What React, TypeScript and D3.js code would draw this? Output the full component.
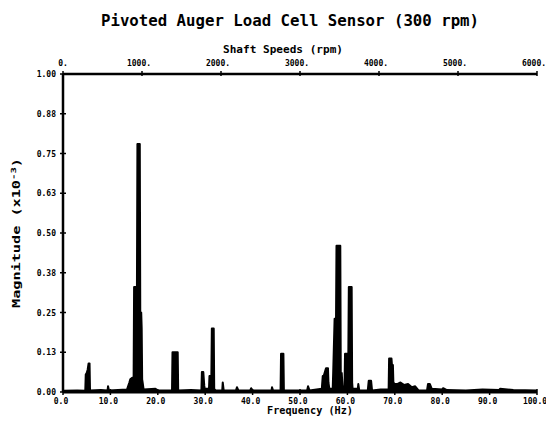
import React from "react";
import * as d3 from "d3";

const title = "Pivoted Auger Load Cell Sensor (300 rpm)";
const xTitle = "Frequency (Hz)";
const topTitle = "Shaft Speeds (rpm)";

const freqTicks = [0, 10, 20, 30, 40, 50, 60, 70, 80, 90, 100];
const freqTickLabels = ["0.0", "10.0", "20.0", "30.0", "40.0", "50.0", "60.0", "70.0", "80.0", "90.0", "100.0"];
const rpmTicks = [0, 1000, 2000, 3000, 4000, 5000, 6000];
const rpmTickLabels = ["0.", "1000.", "2000.", "3000.", "4000.", "5000.", "6000."];
const magTicks = [0, 0.125, 0.25, 0.375, 0.5, 0.625, 0.75, 0.875, 1.0];
const magTickLabels = ["0.00", "0.13", "0.25", "0.38", "0.50", "0.63", "0.75", "0.88", "1.00"];

// spectrum trace (Hz, magnitude x10^-3)
const specFreq = [
  0, 3, 4.7, 4.8, 5.0, 5.2, 5.4, 5.6, 5.7, 8, 9.4, 9.5, 9.7, 13.5, 14.0, 14.2, 14.6, 14.9, 15.0, 15.5, 15.6,
  15.7, 16.2, 16.3, 16.5, 16.6, 16.7, 16.8, 17, 19.5, 20, 23.0, 23.1, 24.2, 24.3, 27, 29.2, 29.3, 29.6, 29.8,
  29.9, 30.8, 30.9, 31.3, 31.4, 31.8, 31.9, 32.2, 33.6, 33.7, 33.9, 36.5, 36.7, 37, 39.5, 39.7, 40, 44, 44.1,
  44.3, 45.9, 46.0, 46.5, 46.6, 49, 51.5, 51.7, 52, 54.6, 54.8, 55.0, 55.5, 55.9, 56.0, 56.2, 56.9, 57.0,
  57.3, 57.6, 57.7, 58.5, 58.6, 58.8, 59.0, 59.4, 59.5, 59.6, 60.2, 60.3, 60.9, 61.0, 61.1, 62.2, 62.3,
  62.5, 64.3, 64.5, 65.0, 65.2, 67, 68.7, 68.8, 69.3, 69.4, 69.6, 69.7, 70.0, 70.5, 71.2, 72, 72.8, 73.6,
  74.3, 75, 76.8, 77.0, 77.4, 77.8, 80.0, 80.2, 81, 85, 88.5, 92, 92.2, 95, 100,
];
const specMag = [
  0.004, 0.005, 0.004, 0.055, 0.06, 0.07, 0.09, 0.09, 0.005, 0.006, 0.005, 0.018, 0.005, 0.008, 0.03, 0.04, 0.045, 0.045, 0.33, 0.33, 0.33,
  0.78, 0.78, 0.25, 0.25, 0.2, 0.04, 0.03, 0.008, 0.01, 0.005, 0.005, 0.125, 0.125, 0.005, 0.006, 0.005, 0.063, 0.063, 0.02,
  0.01, 0.01, 0.05, 0.05, 0.2, 0.2, 0.01, 0.005, 0.005, 0.03, 0.005, 0.005, 0.015, 0.005, 0.005, 0.012, 0.005, 0.005, 0.015,
  0.005, 0.005, 0.12, 0.12, 0.005, 0.005, 0.005, 0.018, 0.005, 0.01, 0.05, 0.05, 0.075, 0.075, 0.03, 0.01, 0.01, 0.06,
  0.23, 0.23, 0.46, 0.46, 0.06, 0.06, 0.01, 0.02, 0.12, 0.12, 0.12, 0.33, 0.33, 0.03, 0.01, 0.01, 0.025,
  0.005, 0.005, 0.035, 0.035, 0.005, 0.008, 0.008, 0.105, 0.105, 0.085, 0.085, 0.03, 0.025, 0.025, 0.03, 0.022, 0.025, 0.015,
  0.018, 0.005, 0.005, 0.025, 0.025, 0.01, 0.008, 0.012, 0.006, 0.005, 0.008, 0.006, 0.01, 0.006, 0.005,
];

const W = 546;
const H = 425;
const left = 63;
const right = 537;
const top = 74;
const bottom = 392;

export default function App() {
  const x = d3.scaleLinear().domain([0, 100]).range([left, right]);
  const xr = d3.scaleLinear().domain([0, 6000]).range([left, right]);
  const y = d3.scaleLinear().domain([0, 1]).range([bottom, top]);
  const pts: [number, number][] = specFreq.map((f, i) => [f, specMag[i]]);
  const area = d3
    .area<[number, number]>()
    .x((d) => x(d[0]))
    .y0(y(0))
    .y1((d) => y(d[1]));
  const line = d3
    .line<[number, number]>()
    .x((d) => x(d[0]))
    .y((d) => y(d[1]));
  const font = "'DejaVu Sans Mono', monospace";
  return (
    <svg
      width={W}
      height={H}
      style={{ position: "absolute", left: 0, top: 0, background: "#fff" }}
      fontFamily={font}
      fontWeight="bold"
    >
      <rect width={W} height={H} fill="#fff" />
      <text x={290} y={26} fontSize={15} textAnchor="middle" textLength={378} lengthAdjust="spacingAndGlyphs">
        {title}
      </text>
      <text x={283} y={53} fontSize={10} textAnchor="middle" textLength={120} lengthAdjust="spacingAndGlyphs">
        {topTitle}
      </text>
      <text x={310} y={414} fontSize={10} textAnchor="middle" textLength={86} lengthAdjust="spacingAndGlyphs">
        {xTitle}
      </text>
      <text
        transform={`translate(20, ${(top + bottom) / 2}) rotate(-90)`}
        fontSize={10}
        textAnchor="middle"
        textLength={150}
        lengthAdjust="spacingAndGlyphs"
      >
        Magnitude (x10
        <tspan dy={-4} fontSize={7}>-3</tspan>
        <tspan dy={4}>)</tspan>
      </text>

      {/* axes */}
      <line x1={left} x2={left} y1={top} y2={bottom} stroke="#000" strokeWidth={2.5} />
      <line x1={left} x2={right} y1={top} y2={top} stroke="#000" strokeWidth={2.5} />

      {magTicks.map((t, i) => (
        <g key={"m" + i}>
          <line x1={left - 3} x2={left + 3} y1={y(t)} y2={y(t)} stroke="#000" strokeWidth={1.5} />
          <text x={left - 7} y={y(t) + 3} fontSize={8} textAnchor="end">
            {magTickLabels[i]}
          </text>
        </g>
      ))}
      {freqTicks.map((t, i) => (
        <g key={"f" + i}>
          <line x1={x(t)} x2={x(t)} y1={bottom - 3} y2={bottom + 3} stroke="#000" strokeWidth={1.5} />
          <text x={x(t) - 2} y={bottom + 12} fontSize={8} textAnchor="middle">
            {freqTickLabels[i]}
          </text>
        </g>
      ))}
      {rpmTicks.map((t, i) => (
        <g key={"r" + i}>
          <line x1={xr(t)} x2={xr(t)} y1={top - 3} y2={top + 2} stroke="#000" strokeWidth={1.5} />
          <text x={xr(t) + (i === 0 ? 0 : -3)} y={top - 8} fontSize={8} textAnchor="middle">
            {rpmTickLabels[i]}
          </text>
        </g>
      ))}

      {/* spectrum */}
      <path d={area(pts) || ""} fill="#000" stroke="none" />
      <path d={line(pts) || ""} fill="none" stroke="#000" strokeWidth={2} strokeLinejoin="round" />
      <line x1={left} x2={right} y1={bottom} y2={bottom} stroke="#000" strokeWidth={3} />
    </svg>
  );
}
